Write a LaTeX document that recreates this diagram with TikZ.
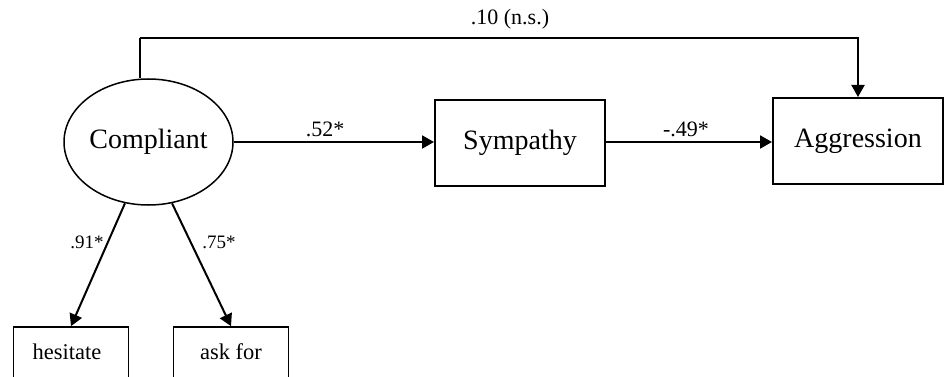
\documentclass[tikz,border=0pt]{standalone}
\usepackage{fontspec}
\setmainfont{Liberation Serif}
\usetikzlibrary{arrows.meta,shapes.geometric}

\tikzset{
  path/.style={line width=2pt, -{Triangle[length=12pt,width=13pt]}},
  plain/.style={line width=2pt},
  latent/.style={draw, ellipse, line width=1.5pt, minimum width=169pt, minimum height=126pt, inner sep=0pt,
                 font=\fontsize{28}{30}\selectfont},
  construct/.style={draw, rectangle, line width=2pt, minimum width=170pt, minimum height=86pt, inner sep=0pt,
                    font=\fontsize{28}{30}\selectfont},
  indicator/.style={draw, rectangle, line width=1.7pt, minimum width=115pt, minimum height=60pt, inner sep=0pt},
  labeltext/.style={font=\fontsize{22.5}{25}\selectfont, inner sep=0pt},
  coef/.style={font=\fontsize{22}{24}\selectfont, inner sep=0pt},
  load/.style={font=\fontsize{19}{21}\selectfont, inner sep=0pt}
}

\begin{document}
\begin{tikzpicture}[x=1pt,y=-1pt]
  \useasboundingbox (0,0) rectangle (947,377);
  \clip (0,0) rectangle (947,377);

  % latent factor and outcome constructs
  \node[latent] (comp) at (148.5,142) {Compliant};
  \node[construct] (sym) at (520,143) {Sympathy};
  \node[construct] (agg) at (858,141) {Aggression};

  % indicators (boxes run past the lower edge)
  \node[indicator] (hes) at (71,357) {};
  \node[labeltext] (hestxt) at (67,352) {hesitate};
  \node[indicator] (ask) at (231,357) {};
  \node[labeltext] (asktxt) at (231,352) {ask for};

  % direct path from Compliant to Aggression over the top
  \coordinate (tl) at (140,38);
  \draw[plain] (tl) -- (tl |- comp.north);
  \draw[path] (tl) -| (agg.north);
  \node[coef] (c10) at (510,19) {.10 (n.s.)};

  % mediated path
  \draw[path] (comp.east) -- (comp.east -| sym.west);
  \node[coef] (c52) at (325,129) {.52*};
  \draw[path] (sym.east |- 0,142) -- (agg.west |- 0,142);
  \node[coef] (c49) at (686,129) {-.49*};

  % factor loadings
  \draw[path] (comp.249) -- (hes.north);
  \draw[path] (comp.291) -- (ask.north);
  \node[load] (l91) at (87,242) {.91*};
  \node[load] (l75) at (219,242) {.75*};
\end{tikzpicture}
\end{document}
